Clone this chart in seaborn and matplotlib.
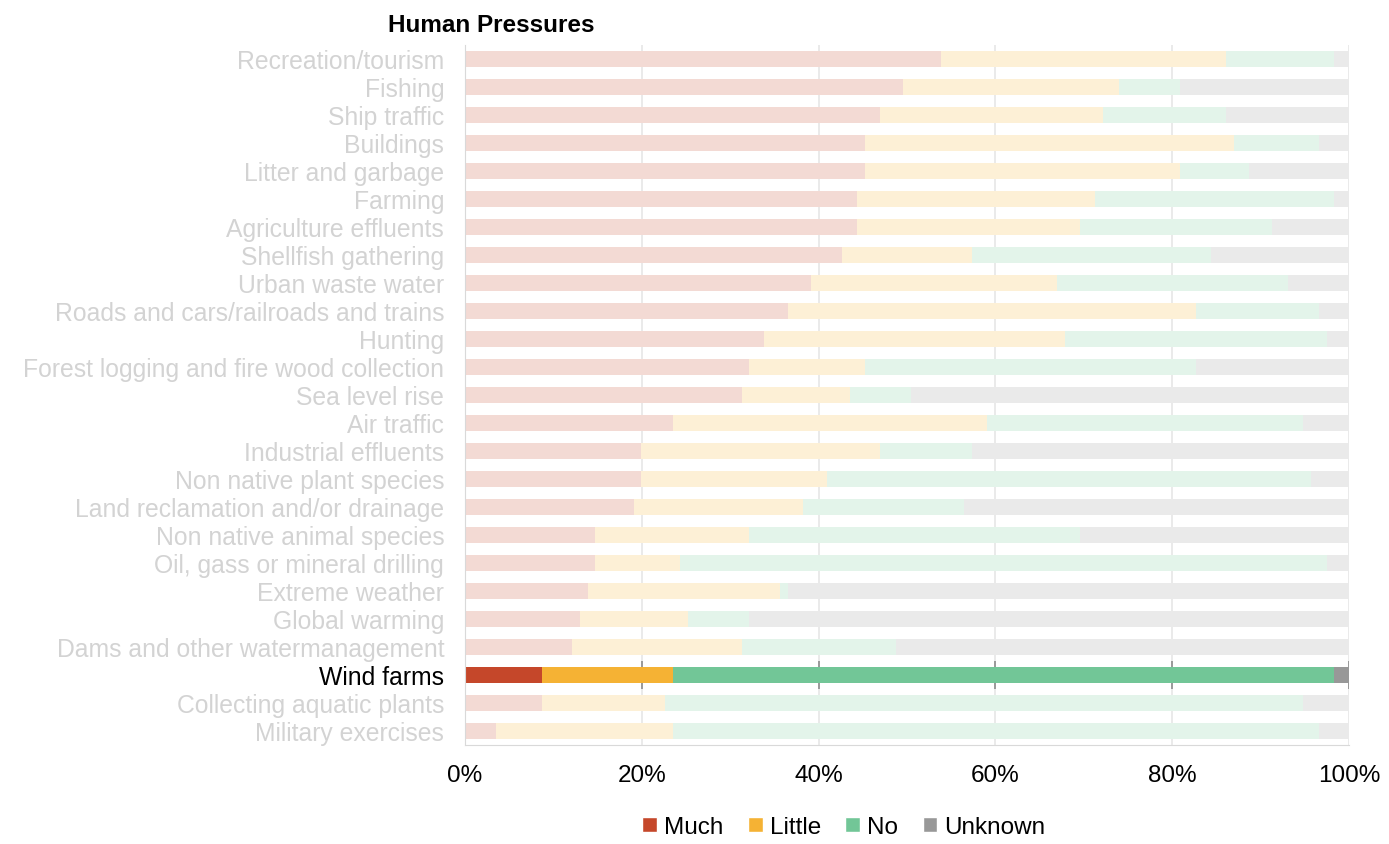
import numpy as np
import pandas as pd
import seaborn as sns
import matplotlib.pyplot as plt
import matplotlib.colors as mcolors
from matplotlib.patches import Patch

# Pressures, top to bottom
categories = ["Recreation/tourism", "Fishing", "Ship traffic", "Buildings",
              "Litter and garbage", "Farming", "Agriculture effluents",
              "Shellfish gathering", "Urban waste water",
              "Roads and cars/railroads and trains", "Hunting",
              "Forest logging and fire wood collection", "Sea level rise",
              "Air traffic", "Industrial effluents", "Non native plant species",
              "Land reclamation and/or drainage", "Non native animal species",
              "Oil, gass or mineral drilling", "Extreme weather",
              "Global warming", "Dams and other watermanagement",
              "Wind farms", "Collecting aquatic plants", "Military exercises"]

# shares in percent (Unknown = rest up to 100)
much = [53.8, 49.6, 47.0, 45.2, 45.2, 44.3, 44.3, 42.6, 39.1, 36.5, 33.8, 32.1,
        31.3, 23.5, 19.9, 19.9, 19.1, 14.7, 14.7, 13.9, 13.0, 12.1, 8.7, 8.7, 3.5]
little = [32.3, 24.4, 25.2, 41.8, 35.7, 27.0, 25.3, 14.8, 27.9, 46.2, 34.1, 13.1,
          12.2, 35.6, 27.1, 21.0, 19.1, 17.4, 9.6, 21.7, 12.2, 19.2, 14.8, 13.9, 20.0]
no = [12.2, 6.9, 13.9, 9.6, 7.8, 27.0, 21.7, 27.0, 26.1, 13.9, 29.6, 37.5,
      6.9, 35.7, 10.4, 54.8, 18.3, 37.5, 73.2, 0.9, 6.9, 17.4, 74.8, 72.2, 73.1]

highlight = "Wind farms"
levels = ["Much", "Little", "No", "Unknown"]
colors = ["#C5472A", "#F5B234", "#72C697", "#989898"]

df = pd.DataFrame({"pressure": categories, "Much": much, "Little": little, "No": no})
df["Unknown"] = 100 - df[["Much", "Little", "No"]].sum(axis=1)

def fade(c, a=0.2):
    rgb = np.array(mcolors.to_rgb(c))
    return tuple(a * rgb + (1 - a))

sns.set_style("white")
plt.rcParams["font.family"] = ["Liberation Sans", "DejaVu Sans"]
plt.rcParams["text.color"] = "black"
plt.rcParams["xtick.labelcolor"] = "black"

fig, ax = plt.subplots(figsize=(13.89, 8.45), dpi=100)
fig.subplots_adjust(left=0.3348, right=0.9712, top=0.9456, bottom=0.1172)

# stacked bars: draw cumulative totals from right to left
cum = df[levels].cumsum(axis=1)
for lev, col in reversed(list(zip(levels, colors))):
    pal = {p: (col if p == highlight else fade(col)) for p in categories}
    sns.barplot(data=cum.assign(pressure=df["pressure"]), x=lev, y="pressure",
                hue="pressure", palette=pal, order=categories, legend=False,
                orient="h", width=0.6, saturation=1, linewidth=0,
                edgecolor="none", ax=ax, zorder=2)

hi = categories.index(highlight)
ax.set_xlim(0, 100)
ax.set_ylim(len(categories) - 0.5, -0.5)
xt = [0, 20, 40, 60, 80, 100]
ax.set_xticks(xt)
ax.set_xticklabels([f"{v}%" for v in xt], fontsize=17.5, color="black")
ax.set_xlabel("")
ax.set_ylabel("")
ax.xaxis.grid(True, color="#E6E6E6", lw=1.2, zorder=0)
ax.set_axisbelow(True)
ax.vlines(xt, hi - 0.5, hi + 0.5, color="#8C8C8C", lw=1.2, zorder=1)

ax.tick_params(axis="y", length=0, pad=15, labelsize=17.8)
ax.set_yticks(np.arange(-0.5, len(categories), 1), minor=True)
ax.tick_params(axis="y", which="minor", length=6, color="#D9D9D9")
ax.tick_params(axis="x", length=5, color="#D9D9D9", pad=9)
for lab in ax.get_yticklabels():
    lab.set_color("black" if lab.get_text() == highlight else "#D3D3D3")

for s in ["top", "right"]:
    ax.spines[s].set_visible(False)
ax.spines["left"].set_color("#D9D9D9")
ax.spines["bottom"].set_color("#D9D9D9")

fig.text(388 / 1389, 1 - 25 / 845, "Human Pressures", fontsize=17.5,
         fontweight="bold", ha="left", va="center", color="black")

handles = [Patch(facecolor=c, label=l) for l, c in zip(levels, colors)]
fig.legend(handles=handles, loc="center", bbox_to_anchor=(844 / 1389, 1 - 828 / 845),
           ncol=4, frameon=False, fontsize=17.5, handlelength=0.6, handleheight=0.6,
           handletextpad=0.3, columnspacing=1.0, labelcolor="black")

fig.savefig("out.png", dpi=100)
